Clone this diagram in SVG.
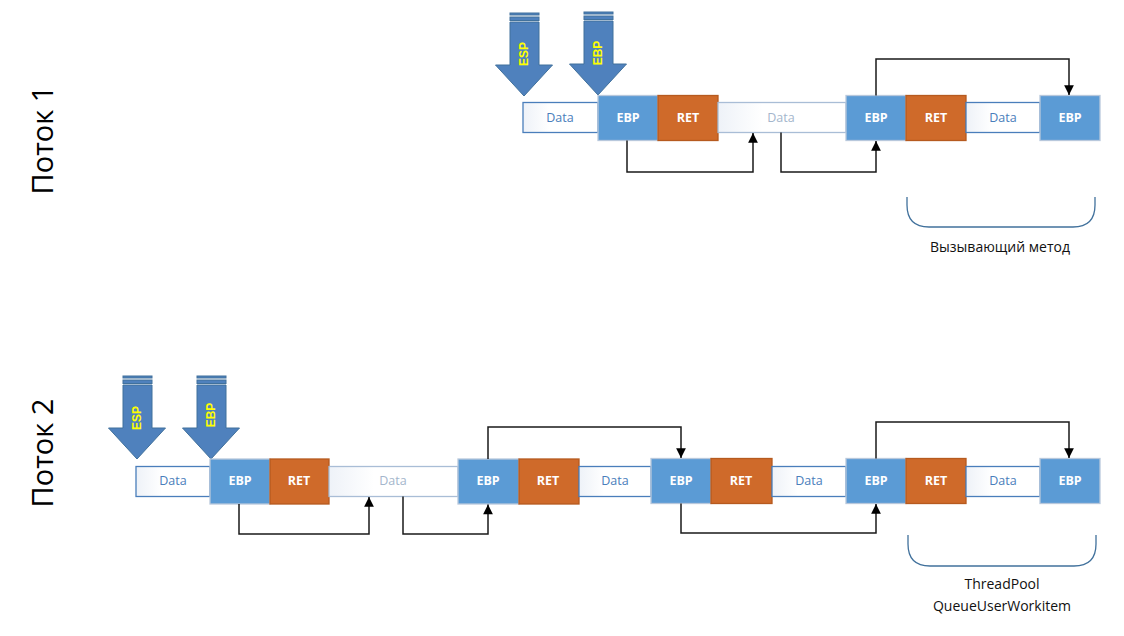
<svg xmlns="http://www.w3.org/2000/svg" width="1124" height="636" viewBox="0 0 1124 636">
<style>
.data{fill:url(#dg);stroke:#4a7ebb;stroke-width:1.3}
.fdata{fill:url(#dg);stroke:#a9bdd6;stroke-width:1.3}
.ebp{fill:#5b9bd5;stroke:#b8c8dc;stroke-width:1.3}
.ret{fill:#cf6a2a;stroke:#b65a1f;stroke-width:1.3}
.bt{font-family:"Open Sans","Liberation Sans",sans-serif;font-size:12.5px;font-weight:bold;fill:#fff;text-anchor:middle}
.dt{font-family:"Open Sans","Liberation Sans",sans-serif;font-size:12.5px;fill:#4a7ebb;text-anchor:middle}
.fdt{font-family:"Open Sans","Liberation Sans",sans-serif;font-size:12.5px;fill:#a4b6cc;text-anchor:middle}
.conn{fill:none;stroke:#1a1a1a;stroke-width:1.5}
.arr{fill:#4f81bd;stroke:#41719c;stroke-width:1}
.at{font-family:"Liberation Sans",sans-serif;font-size:12px;font-weight:bold;fill:#ffff00;text-anchor:middle}
.lbl{font-family:"Open Sans","Liberation Sans",sans-serif;font-size:14px;fill:#111;text-anchor:middle}
.thr{font-family:"Open Sans","Liberation Sans",sans-serif;font-size:29px;fill:#000;text-anchor:middle}
.br{fill:none;stroke:#41719c;stroke-width:1.3}
</style>
<defs>
<linearGradient id="dg" x1="0" y1="0" x2="1" y2="0">
<stop offset="0" stop-color="#eef2f8"/><stop offset="0.35" stop-color="#ffffff"/><stop offset="1" stop-color="#ffffff"/>
</linearGradient>
<marker id="ah" viewBox="0 0 10 10" refX="10" refY="5" markerWidth="7" markerHeight="6.5" orient="auto" markerUnits="strokeWidth">
<path d="M0,0 L10,5 L0,10 Z" fill="#000"/>
</marker>
<g id="bigarrow">
<path class="arr" d="M-14,-74 H15 V-31 H28.5 L0,0 L-28.5,-31 H-14 Z"/>
<rect class="arr" x="-14" y="-83" width="29" height="2"/>
<rect class="arr" x="-14" y="-79" width="29" height="3.5"/>
</g>
</defs>
<rect width="1124" height="636" fill="#fff"/>

<g id="label-thread1"><text class="thr" transform="translate(53,140) rotate(-90)">Поток 1</text></g>
<g id="label-thread2"><text class="thr" transform="translate(53,453) rotate(-90)">Поток 2</text></g>

<!-- Thread 1 -->
<g id="t1-esp"><use href="#bigarrow" x="524" y="96"/><text class="at" transform="translate(528,54) rotate(-90)">ESP</text></g>
<g id="t1-ebp-ptr"><use href="#bigarrow" x="598" y="95"/><text class="at" transform="translate(602,53) rotate(-90)">EBP</text></g>
<g id="t1-data1"><rect class="data" x="523" y="102.5" width="75" height="30"/><text class="dt" x="560" y="122">Data</text></g>
<g id="t1-ebp1"><rect class="ebp" x="598" y="95.5" width="60" height="45"/><text class="bt" x="628" y="122">EBP</text></g>
<g id="t1-ret1"><rect class="ret" x="658" y="95.5" width="60" height="45"/><text class="bt" x="688" y="122">RET</text></g>
<g id="t1-data2"><rect class="fdata" x="718" y="102.5" width="128" height="30"/><text class="fdt" x="781" y="122">Data</text></g>
<g id="t1-ebp2"><rect class="ebp" x="846" y="95.5" width="60" height="45"/><text class="bt" x="876" y="122">EBP</text></g>
<g id="t1-ret2"><rect class="ret" x="906" y="95.5" width="60" height="45"/><text class="bt" x="936" y="122">RET</text></g>
<g id="t1-data3"><rect class="data" x="966" y="102.5" width="74" height="30"/><text class="dt" x="1003" y="122">Data</text></g>
<g id="t1-ebp3"><rect class="ebp" x="1040" y="95.5" width="60" height="45"/><text class="bt" x="1070" y="122">EBP</text></g>
<g id="t1-bracket"><path class="br" d="M907,197 V205 Q907,227 929,227 H1073 Q1095,227 1095,205 V197"/><text class="lbl" x="1000" y="252">Вызывающий метод</text></g>

<!-- Thread 2 -->
<g id="t2-esp"><use href="#bigarrow" x="137" y="459"/><text class="at" transform="translate(141,418) rotate(-90)">ESP</text></g>
<g id="t2-ebp-ptr"><use href="#bigarrow" x="211" y="459"/><text class="at" transform="translate(215,415) rotate(-90)">EBP</text></g>
<g id="t2-data1"><rect class="data" x="136" y="466.5" width="74" height="30"/><text class="dt" x="173" y="485">Data</text></g>
<g id="t2-ebp1"><rect class="ebp" x="210" y="459" width="60" height="45"/><text class="bt" x="240" y="485">EBP</text></g>
<g id="t2-ret1"><rect class="ret" x="270" y="459" width="59" height="45"/><text class="bt" x="299" y="485">RET</text></g>
<g id="t2-data2"><rect class="fdata" x="329" y="466.5" width="129" height="30"/><text class="fdt" x="393" y="485">Data</text></g>
<g id="t2-ebp2"><rect class="ebp" x="458" y="459" width="61" height="45"/><text class="bt" x="488" y="485">EBP</text></g>
<g id="t2-ret2"><rect class="ret" x="519" y="459" width="60" height="45"/><text class="bt" x="548" y="485">RET</text></g>
<g id="t2-data3"><rect class="data" x="579" y="466.5" width="72" height="30"/><text class="dt" x="615" y="485">Data</text></g>
<g id="t2-ebp3"><rect class="ebp" x="651" y="458.5" width="60" height="45"/><text class="bt" x="681" y="485">EBP</text></g>
<g id="t2-ret3"><rect class="ret" x="711" y="458.5" width="61" height="45"/><text class="bt" x="741" y="485">RET</text></g>
<g id="t2-data4"><rect class="data" x="772" y="466.5" width="74" height="30"/><text class="dt" x="809" y="485">Data</text></g>
<g id="t2-ebp4"><rect class="ebp" x="846" y="458.5" width="60" height="45"/><text class="bt" x="876" y="485">EBP</text></g>
<g id="t2-ret4"><rect class="ret" x="906" y="458.5" width="60" height="45"/><text class="bt" x="936" y="485">RET</text></g>
<g id="t2-data5"><rect class="data" x="966" y="466.5" width="74" height="30"/><text class="dt" x="1003" y="485">Data</text></g>
<g id="t2-ebp5"><rect class="ebp" x="1040" y="458.5" width="60" height="45"/><text class="bt" x="1070" y="485">EBP</text></g>
<g id="t2-bracket"><path class="br" d="M908,535 V544 Q908,566 930,566 H1074 Q1096,566 1096,544 V535"/><text class="lbl" x="1002" y="589">ThreadPool</text><text class="lbl" x="1002" y="611">QueueUserWorkitem</text></g>

<g id="connectors">
<path class="conn" marker-end="url(#ah)" d="M627,140.5 V172 H753 V133"/>
<path class="conn" marker-end="url(#ah)" d="M781,132.5 V172 H876 V141"/>
<path class="conn" marker-end="url(#ah)" d="M876,95.5 V59 H1069 V95"/>
<path class="conn" marker-end="url(#ah)" d="M239,504 V534 H369 V497"/>
<path class="conn" marker-end="url(#ah)" d="M403,496.5 V534 H488 V504.5"/>
<path class="conn" marker-end="url(#ah)" d="M488,459 V427 H681 V458"/>
<path class="conn" marker-end="url(#ah)" d="M681,503.5 V533 H876 V504"/>
<path class="conn" marker-end="url(#ah)" d="M876,458.5 V422 H1069 V458"/>
</g>
</svg>
